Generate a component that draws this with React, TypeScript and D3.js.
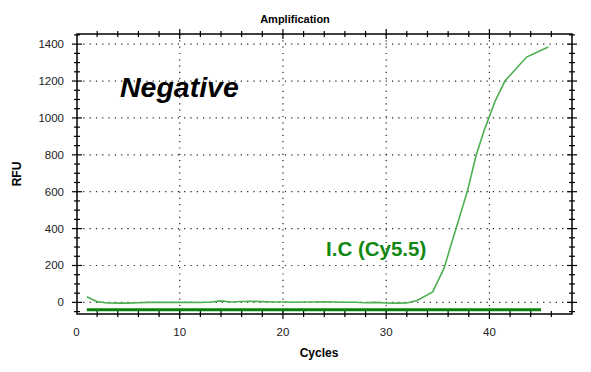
import React, { useRef, useEffect } from 'react';
import * as d3 from 'd3';

// curve (cycle, RFU)
const cycles = [1, 2, 3, 4, 5, 6, 7, 8, 9, 10, 11, 12, 13, 14, 15, 16, 17, 18, 19, 20, 21, 22, 23, 24, 25, 26, 27, 28, 29, 30, 31, 32, 33, 34.5, 35.6, 36.3, 37.1, 37.9, 38.7, 39.5, 40.6, 41.5, 43.6, 45.7];
const rfu = [30, 4, -3, -4, -4, -2, 0, 1, 0, 1, 0, -1, 2, 8, 2, 5, 6, 4, 2, 2, 1, 2, 2, 3, 2, 1, 1, -2, 0, -3, -4, -3, 10, 57, 184, 315, 462, 610, 795, 934, 1097, 1200, 1330, 1385];

const thresholdRange = [1, 45];
const thresholdValue = -40;

const xTicks = [0, 10, 20, 30, 40];
const yTicks = [0, 200, 400, 600, 800, 1000, 1200, 1400];

const App = () => {
  const svgRef = useRef(null);

  useEffect(() => {
    const width = 591;
    const height = 372;
    const left = 77, right = 572, top = 34, bottom = 314;

    const svg = d3.select(svgRef.current);
    svg.selectAll('*').remove();
    svg.attr('width', width).attr('height', height);

    const x = d3.scaleLinear().domain([0, 48]).range([76.5, right]);
    const y = d3.scaleLinear().domain([-63, 1455]).range([bottom, top]);

    const font = 'Liberation Sans, Arial, sans-serif';

    // dotted grid
    svg.append('g')
      .selectAll('line.h')
      .data(yTicks)
      .join('line')
      .attr('x1', left).attr('x2', right)
      .attr('y1', d => y(d)).attr('y2', d => y(d))
      .attr('stroke', '#222')
      .attr('stroke-width', 1.2)
      .attr('stroke-dasharray', '1.2,5.1');

    svg.append('g')
      .selectAll('line.v')
      .data(xTicks.slice(1))
      .join('line')
      .attr('x1', d => x(d)).attr('x2', d => x(d))
      .attr('y1', top).attr('y2', bottom)
      .attr('stroke', '#222')
      .attr('stroke-width', 1.2)
      .attr('stroke-dasharray', '1.2,5.1');

    // frame
    svg.append('rect')
      .attr('x', left).attr('y', top)
      .attr('width', right - left).attr('height', bottom - top)
      .attr('fill', 'none')
      .attr('stroke', '#000')
      .attr('stroke-width', 1.5);

    // ticks on all four sides
    const xMinor = d3.range(2, 48, 2);
    const yMinor = d3.range(-50, 1455, 50);
    const ticks = svg.append('g').attr('stroke', '#000').attr('stroke-width', 1.2);
    [left, right].forEach(px => {
      ticks.selectAll(null)
        .data(yMinor)
        .join('line')
        .attr('x1', d => px - (d % 200 === 0 ? 5 : 3))
        .attr('x2', d => px + (d % 200 === 0 ? 5 : 3))
        .attr('y1', d => y(d)).attr('y2', d => y(d));
    });
    [top, bottom].forEach(py => {
      ticks.selectAll(null)
        .data(xMinor)
        .join('line')
        .attr('x1', d => x(d)).attr('x2', d => x(d))
        .attr('y1', d => py - (d % 10 === 0 ? 5 : 3))
        .attr('y2', d => py + (d % 10 === 0 ? 5 : 3));
    });

    // tick labels
    svg.append('g')
      .selectAll('text')
      .data(yTicks)
      .join('text')
      .attr('x', 64)
      .attr('y', d => y(d) + 4)
      .attr('text-anchor', 'end')
      .style('font-family', font)
      .style('font-size', '11.5px')
      .attr('fill', '#222')
      .text(d => d);

    svg.append('g')
      .selectAll('text')
      .data(xTicks)
      .join('text')
      .attr('x', d => x(d))
      .attr('y', 336)
      .attr('text-anchor', 'middle')
      .style('font-family', font)
      .style('font-size', '11.5px')
      .attr('fill', '#222')
      .text(d => d);

    // threshold line
    svg.append('line')
      .attr('x1', x(thresholdRange[0])).attr('x2', x(thresholdRange[1]))
      .attr('y1', y(thresholdValue)).attr('y2', y(thresholdValue))
      .attr('stroke', '#0a800a')
      .attr('stroke-width', 3);

    // amplification curve
    const data = cycles.map((c, i) => ({ c, v: rfu[i] }));
    const line = d3.line<any>()
      .x(d => x(d.c))
      .y(d => y(d.v));

    svg.append('path')
      .datum(data)
      .attr('fill', 'none')
      .attr('stroke', '#4caf50')
      .attr('stroke-width', 1.6)
      .attr('d', line);

    // labels
    svg.append('text')
      .attr('x', 295).attr('y', 23)
      .attr('text-anchor', 'middle')
      .style('font-family', font)
      .style('font-weight', 'bold')
      .style('font-size', '11px')
      .text('Amplification');

    svg.append('text')
      .attr('x', 319).attr('y', 357)
      .attr('text-anchor', 'middle')
      .style('font-family', font)
      .style('font-weight', 'bold')
      .style('font-size', '12px')
      .text('Cycles');

    svg.append('text')
      .attr('transform', 'translate(21,174) rotate(-90)')
      .attr('text-anchor', 'middle')
      .style('font-family', font)
      .style('font-weight', 'bold')
      .style('font-size', '12px')
      .text('RFU');

    svg.append('text')
      .attr('x', 120).attr('y', 97)
      .style('font-family', font)
      .style('font-weight', 'bold')
      .style('font-style', 'italic')
      .style('font-size', '28.5px')
      .text('Negative');

    svg.append('text')
      .attr('x', 326).attr('y', 256)
      .style('font-family', font)
      .style('font-weight', 'bold')
      .style('font-size', '20.5px')
      .attr('fill', '#118811')
      .text('I.C (Cy5.5)');
  }, []);

  return <svg ref={svgRef} style={{ position: 'absolute', left: 0, top: 0, background: '#fff' }}></svg>;
};

export default App;
